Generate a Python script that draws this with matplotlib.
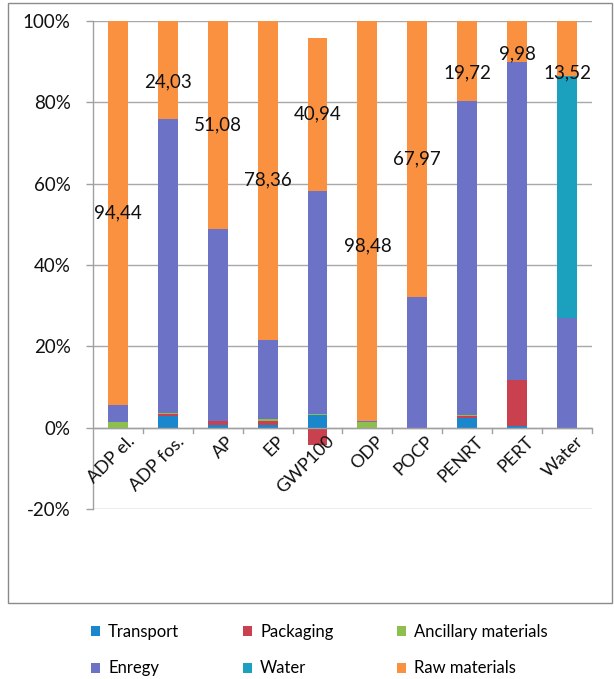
import numpy as np
import matplotlib
matplotlib.use("Agg")
import matplotlib.pyplot as plt
from matplotlib.patches import Rectangle
from matplotlib.transforms import ScaledTranslation

plt.rcParams['font.family'] = ['Lato', 'DejaVu Sans']

categories = ["ADP el.", "ADP fos.", "AP", "EP", "GWP100", "ODP",
              "POCP", "PENRT", "PERT", "Water"]

# Contribution of each life-cycle stage, % of the net total per indicator
transport = [0.0, 2.8, 0.6, 0.6, 3.5, 0.0, 0.0, 2.3, 0.5, 0.0]
packaging = [0.0, 0.5, 1.0, 1.0, -4.6, 0.0, 0.0, 0.6, 11.3, 0.0]
ancillary = [1.3, 0.4, 0.1, 0.5, 0.1, 1.5, 0.0, 0.1, 0.0, 0.0]
energy = [4.26, 72.27, 47.21, 19.54, 60.06, 0.02, 32.03, 77.28, 78.22, 27.0]
water = [0.0, 0.0, 0.0, 0.0, 0.0, 0.0, 0.0, 0.0, 0.0, 59.48]
raw_materials = [94.44, 24.03, 51.08, 78.36, 40.94, 98.48, 67.97, 19.72, 9.98, 13.52]

series_names = ["Transport", "Packaging", "Ancillary materials",
                "Enregy", "Water", "Raw materials"]
series_values = [transport, packaging, ancillary, energy, water, raw_materials]
colors = ["#1A86CC", "#C9404F", "#8DBE4E", "#6C73C7", "#1BA0BD", "#FA9141"]

# vertical nudges (percentage points) for the raw-material value labels
label_dy = [0, -3, 0, 0, 0, -6, 0, -3, -3, -6]

data = np.array(series_values, dtype=float)
# 100 % stacked: every value scaled by the sum of absolute contributions
shares = data / np.abs(data).sum(axis=0) * 100

fig = plt.figure(figsize=(6.14, 6.79), dpi=100)
ax = fig.add_axes([0.1515, 0.2504, 0.8125, 0.7187])

x = np.arange(len(categories))
width = 0.4
pos_bottom = np.zeros(len(categories))
neg_bottom = np.zeros(len(categories))
handles = []
for name, vals, col in zip(series_names, shares, colors):
    bottom = np.where(vals >= 0, pos_bottom, neg_bottom)
    h = ax.bar(x, vals, width, bottom=bottom, color=col, label=name,
               zorder=3, linewidth=0)
    handles.append(h)
    pos_bottom = pos_bottom + np.where(vals >= 0, vals, 0)
    neg_bottom = neg_bottom + np.where(vals < 0, vals, 0)

# raw-material value labels, centred on the raw-material segment
raw_share = shares[-1]
raw_base = pos_bottom - raw_share
for i, v in enumerate(raw_materials):
    ax.text(x[i], raw_base[i] + raw_share[i] / 2 + label_dy[i],
            f"{v:.2f}".replace(".", ","), ha="center", va="center",
            fontsize=13.5, color="#111111", zorder=5)

ax.set_xlim(-0.5, len(categories) - 0.5)
ax.set_ylim(-20, 100)
ax.set_yticks(np.arange(-20, 101, 20))
ax.set_yticklabels([f"{t}%" for t in range(-20, 101, 20)], fontsize=13.5,
                   color="#111111")
ax.yaxis.grid(True, color="#a8a8a8", linewidth=1, zorder=0)
ax.tick_params(axis="y", length=5, width=1, color="#a0a0a0", pad=11)

for s in ["top", "right", "bottom"]:
    ax.spines[s].set_visible(False)
ax.spines["left"].set_color("#a0a0a0")
ax.spines["left"].set_linewidth(1)

# category axis drawn at the 0 % line with ticks between categories
ax.axhline(0, color="#a0a0a0", linewidth=1, zorder=4)
ax.set_xticks([])
for b in np.arange(-0.5, len(categories), 1.0)[1:]:
    ax.plot([b, b], [0, -1.3], color="#a0a0a0", linewidth=1, zorder=4,
            clip_on=False)

shift = ScaledTranslation(6 / 72, -4 / 72, fig.dpi_scale_trans)
for i, c in enumerate(categories):
    ax.text(x[i], 0, c, rotation=45, ha="right", va="top",
            rotation_mode="anchor", fontsize=13, color="#111111",
            transform=ax.transData + shift)

order = [0, 3, 1, 4, 2, 5]
leg = fig.legend([handles[k] for k in order], [series_names[k] for k in order],
                 ncol=3, loc="center", bbox_to_anchor=(0.52, 0.0427),
                 frameon=False, fontsize=12, handlelength=0.55,
                 handleheight=0.55, handletextpad=0.5, columnspacing=3.8,
                 labelspacing=1.25)

# chart-area border
fig.add_artist(Rectangle((8 / 614, 1 - 603 / 679), (612 - 8) / 614,
                         (603 - 3) / 679, transform=fig.transFigure,
                         fill=False, edgecolor="#8a8a8a", linewidth=1))

fig.savefig("out.png", dpi=100)
